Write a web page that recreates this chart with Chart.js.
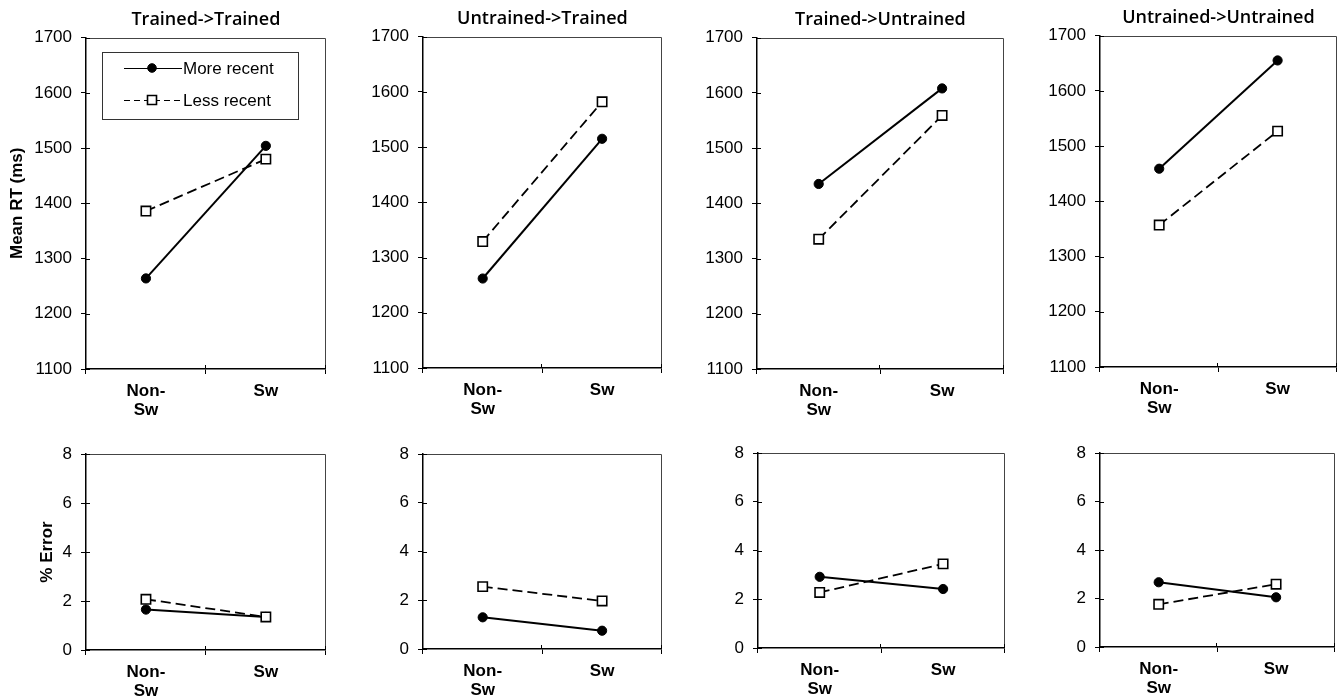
<!DOCTYPE html>
<html><head><meta charset="utf-8">
<script src="https://cdn.jsdelivr.net/npm/chart.js@4.4.1/dist/chart.umd.min.js"></script>
<style>
html,body{margin:0;padding:0;background:#fff;}
#wrap{position:relative;width:1340px;height:698px;overflow:hidden;background:#fff;}
#wrap canvas{position:absolute;}
</style></head><body><div id="wrap"></div>
<script>
// ---------- data ----------
const categories = [['Non-', 'Sw'], 'Sw'];
const panelTitles = ['Trained->Trained', 'Untrained->Trained', 'Trained->Untrained', 'Untrained->Untrained'];
const seriesNames = ['More recent', 'Less recent'];
const rtMoreRecent = [[1264, 1504], [1262, 1515], [1435, 1608], [1459, 1655]];
const rtLessRecent = [[1386, 1480], [1329, 1582], [1335, 1559], [1357, 1527]];
const errMoreRecent = [[1.65, 1.35], [1.30, 0.75], [2.92, 2.42], [2.67, 2.05]];
const errLessRecent = [[2.07, 1.35], [2.56, 1.97], [2.28, 3.45], [1.76, 2.59]];
const rtAxis = { min: 1100, max: 1700, step: 100, title: 'Mean RT (ms)' };
const errAxis = { min: 0, max: 8, step: 2, title: '% Error' };

// ---------- layout (plot-area rectangles) ----------
const topRects = [
  { l: 86, r: 326, t: 38, b: 369 },
  { l: 423, r: 662, t: 37, b: 368 },
  { l: 757, r: 1004, t: 38, b: 369 },
  { l: 1100, r: 1337, t: 36, b: 367 }
];
const botRects = [
  { l: 86, r: 326, t: 454, b: 650 },
  { l: 423, r: 662, t: 454, b: 649 },
  { l: 758, r: 1005, t: 453, b: 648 },
  { l: 1100, r: 1335, t: 453, b: 647 }
];

const FONT = "'Liberation Sans', Arial, sans-serif";
const YW = 86, XH = 50, PADR = 3;

const framePlugin = {
  id: 'frame',
  beforeDatasetsDraw(chart) {
    const { ctx, chartArea: ca, scales } = chart;
    ctx.save();
    ctx.strokeStyle = '#444';
    ctx.lineWidth = 1;
    ctx.beginPath();
    ctx.moveTo(ca.left, Math.round(ca.top) + 0.5);
    ctx.lineTo(Math.round(ca.right) - 0.5, Math.round(ca.top) + 0.5);
    ctx.lineTo(Math.round(ca.right) - 0.5, ca.bottom);
    ctx.stroke();
    // inward halves of the crossing tick marks
    ctx.strokeStyle = '#000';
    ctx.beginPath();
    scales.y.ticks.forEach((t) => {
      const py = Math.round(scales.y.getPixelForValue(t.value)) + 0.5;
      ctx.moveTo(ca.left, py);
      ctx.lineTo(ca.left + 4, py);
    });
    const n = scales.x.ticks.length;
    for (let i = 1; i <= n; i++) {
      const px = Math.round(ca.left + (ca.right - ca.left) * i / n) - 0.5;
      ctx.moveTo(px, ca.bottom);
      ctx.lineTo(px, ca.bottom - 4);
    }
    ctx.stroke();
    ctx.restore();
  }
};

const insetLegend = {
  id: 'insetLegend',
  afterDatasetsDraw(chart, args, opts) {
    if (!opts || !opts.show) return;
    const { ctx, chartArea: ca } = chart;
    const x0 = Math.round(ca.left) + 16, y0 = Math.round(ca.top) + 14, w = 196, h = 67;
    ctx.save();
    ctx.fillStyle = '#fff';
    ctx.fillRect(x0, y0, w, h);
    ctx.strokeStyle = '#333';
    ctx.lineWidth = 1;
    ctx.strokeRect(x0 + 0.5, y0 + 0.5, w, h);
    chart.data.datasets.forEach((ds, i) => {
      const cy = y0 + 16 + i * 32;
      ctx.strokeStyle = ds.borderColor;
      ctx.lineWidth = 1.2;
      ctx.setLineDash(ds.borderDash && ds.borderDash.length ? [6, 4] : []);
      ctx.beginPath();
      ctx.moveTo(x0 + 22, cy + 0.5);
      ctx.lineTo(x0 + 80, cy + 0.5);
      ctx.stroke();
      ctx.setLineDash([]);
      const mx = x0 + 50;
      ctx.lineWidth = ds.pointBorderWidth;
      ctx.strokeStyle = ds.pointBorderColor;
      ctx.fillStyle = ds.pointBackgroundColor;
      ctx.beginPath();
      if (ds.pointStyle === 'rect') {
        const s = 4.5;
        ctx.rect(mx - s, cy - s, 2 * s, 2 * s);
      } else {
        ctx.arc(mx, cy, 4.3, 0, Math.PI * 2);
      }
      ctx.fill();
      ctx.stroke();
      ctx.fillStyle = '#000';
      ctx.font = '17px ' + FONT;
      ctx.textBaseline = 'middle';
      ctx.textAlign = 'left';
      ctx.fillText(ds.label, x0 + 81, cy + 1);
    });
    ctx.restore();
  }
};

function makePanel(rect, row, idx, more, less, axis) {
  const wrap = document.getElementById('wrap');
  const cv = document.createElement('canvas');
  const pos = {
    left: rect.l - YW,
    top: row === 'top' ? rect.t - 40 : rect.t - 34
  };
  pos.w = YW + (rect.r - rect.l) + PADR;
  pos.h = (rect.b - pos.top) + XH;
  cv.width = pos.w; cv.height = pos.h;
  cv.style.left = pos.left + 'px';
  cv.style.top = pos.top + 'px';
  cv.style.width = pos.w + 'px';
  cv.style.height = pos.h + 'px';
  wrap.appendChild(cv);

  const showYTitle = idx === 0;
  const chart = new Chart(cv, {
    type: 'line',
    data: {
      labels: categories,
      datasets: [
        {
          label: seriesNames[0], data: more, order: 1,
          borderColor: '#000', borderWidth: 2, borderDash: [],
          pointStyle: 'circle', pointRadius: 4.6, pointBackgroundColor: '#000',
          pointBorderColor: '#000', pointBorderWidth: 1, tension: 0, fill: false
        },
        {
          label: seriesNames[1], data: less, order: 0,
          borderColor: '#000', borderWidth: 1.8, borderDash: [10, 5],
          pointStyle: 'rect', pointRadius: 6.6, pointBackgroundColor: '#fff',
          pointBorderColor: '#000', pointBorderWidth: 1.6, tension: 0, fill: false
        }
      ]
    },
    options: {
      responsive: false,
      maintainAspectRatio: false,
      animation: false,
      devicePixelRatio: 1,
      layout: { padding: { top: row === 'top' ? 0 : 34, right: PADR, left: 0, bottom: 0 } },
      plugins: {
        legend: { display: false },
        tooltip: { enabled: false },
        title: {
          display: row === 'top',
          text: panelTitles[idx],
          fullSize: false,
          color: '#000',
          font: { family: "'Open Sans', 'DejaVu Sans', sans-serif", size: 18, weight: '600', lineHeight: 1.2 },
          padding: { top: 11, bottom: 7 }
        },
        insetLegend: { show: row === 'top' && idx === 0 }
      },
      scales: {
        x: {
          type: 'category',
          offset: true,
          grid: { display: true, offset: true, drawOnChartArea: false, drawTicks: true, tickLength: 5, color: '#000', lineWidth: 1 },
          border: { display: true, color: '#000', width: 1.5 },
          ticks: { color: '#000', font: { family: FONT, size: 17, weight: 'bold', lineHeight: 1.1 }, padding: 8, maxRotation: 0, autoSkip: false },
          afterFit: (s) => { s.height = XH; }
        },
        y: {
          min: axis.min, max: axis.max,
          grid: { display: true, drawOnChartArea: false, drawTicks: true, tickLength: 5, color: '#000', lineWidth: 1 },
          border: { display: true, color: '#000', width: 1.5 },
          ticks: { stepSize: axis.step, color: '#000', font: { family: FONT, size: 17 }, padding: 9, callback: (v) => String(v) },
          title: {
            display: showYTitle, text: axis.title, color: '#000',
            font: { family: FONT, size: 17, weight: 'bold', lineHeight: 1.2 },
            padding: { top: row === 'top' ? 7 : 37, bottom: 0 }
          },
          afterFit: (s) => { s.width = YW; }
        }
      }
    },
    plugins: [framePlugin, insetLegend]
  });

  // nudge the canvas so that the plot area lands on the reference rectangle
  for (let k = 0; k < 3; k++) {
    const ca = chart.chartArea;
    const dw = (rect.r - rect.l) - (ca.right - ca.left);
    const dh = (rect.b - rect.t) - (ca.bottom - ca.top);
    pos.left = rect.l - ca.left;
    pos.top = rect.t - ca.top;
    cv.style.left = pos.left + 'px';
    cv.style.top = pos.top + 'px';
    if (Math.abs(dw) < 0.5 && Math.abs(dh) < 0.5) break;
    pos.w = Math.round(pos.w + dw);
    pos.h = Math.round(pos.h + dh);
    chart.resize(pos.w, pos.h);
  }
}

for (let i = 0; i < 4; i++) {
  makePanel(topRects[i], 'top', i, rtMoreRecent[i], rtLessRecent[i], rtAxis);
  makePanel(botRects[i], 'bottom', i, errMoreRecent[i], errLessRecent[i], errAxis);
}
</script>
</body></html>
